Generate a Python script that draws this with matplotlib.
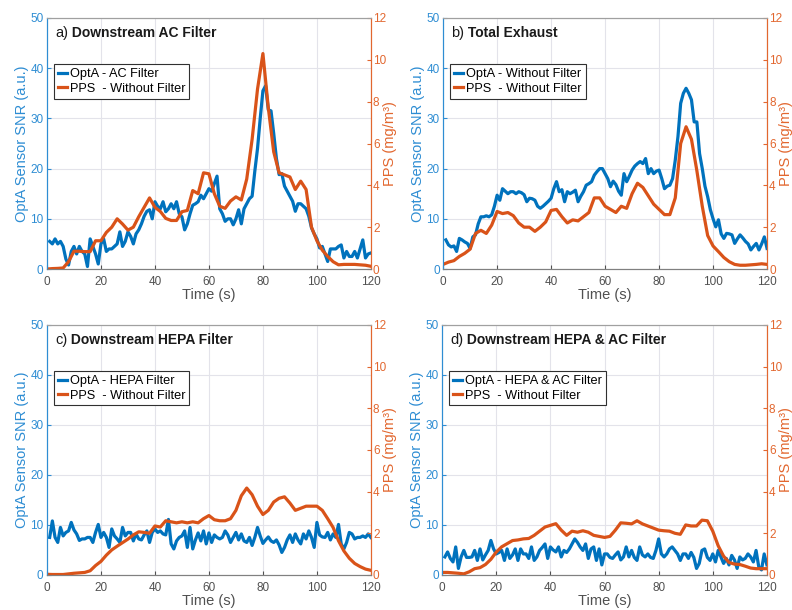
import numpy as np
import matplotlib
matplotlib.use("Agg")
import matplotlib.pyplot as plt

plt.rcParams['font.family'] = ['Liberation Sans', 'DejaVu Sans']

# ---------------- data ----------------
t_opt = np.arange(1, 121)          # s
t_pps = np.arange(0, 121, 2)       # s

a_opt = [5.5, 5, 6, 5, 5.5, 4.5, 2, 0.8, 3.5, 4.5,
         3, 4.5, 3.5, 3, 0.5, 6, 4.5, 3, 1, 5,
         6, 3.5, 4, 4, 4.5, 5, 7.4, 4.5, 5.5, 7.4,
         6.5, 5, 7, 7.8, 9, 10.5, 11.5, 11.8, 10, 13.4,
         12.5, 12, 13.4, 11.4, 12, 13, 12, 13.4, 11, 10.4,
         7.8, 9, 11, 12.7, 13, 13.4, 14.7, 14, 15, 16,
         15.5, 17, 18.5, 12, 11, 9.5, 10, 10, 8.8, 10,
         11.8, 9, 12, 13, 14, 14.5, 19.5, 24, 30, 35.5,
         36.5, 31.7, 31.5, 27, 22, 18.8, 19, 16.5, 15.5, 14.5,
         13.5, 11.5, 13, 13, 12.5, 12, 10.5, 8.2, 7, 6,
         4.2, 4.5, 3, 1.5, 4, 4, 4, 4.5, 4.8, 2.2,
         3.5, 2.5, 2.5, 3.5, 2.2, 4, 5.8, 2.2, 3, 3.2]
a_pps = [0.0, 0.02, 0.03, 0.05, 0.35, 0.85, 0.85, 0.83, 0.83, 1.35,
         1.35, 1.75, 2.0, 2.4, 2.15, 1.86, 2.0, 2.5, 2.95, 3.4,
         2.95, 2.75, 2.42, 2.32, 2.32, 2.74, 2.8, 3.75, 3.6, 4.6,
         4.55, 3.6, 3.0, 2.9, 3.25, 3.45, 3.3, 4.3, 6.2, 8.6,
         10.3, 7.7, 5.6, 4.6, 4.5, 4.4, 3.8, 4.2, 3.8, 2.0,
         1.35, 0.9, 0.6, 0.35, 0.2, 0.22, 0.22, 0.22, 0.2, 0.18,
         0.13]

b_opt = [5.8, 4.8, 4.4, 4.6, 3.5, 6.1, 5.8, 5.4, 5.1, 4.1,
         6.4, 6.8, 9, 10.4, 10.4, 10.6, 10.4, 10.8, 12.5, 14.7,
         13.7, 16, 15.5, 15, 15.4, 15.4, 15, 15.4, 15.2, 14.8,
         13.4, 14.1, 14, 13.7, 12.5, 12.1, 12.5, 13, 13.5, 14.1,
         16, 17.4, 15.4, 15.8, 13.4, 15.4, 15, 15.3, 15.7, 13.4,
         14.5, 15.4, 16.7, 17, 17.4, 18.7, 19.4, 20, 20, 19,
         18, 16.4, 17.5, 16.8, 15.5, 14.7, 19, 17.4, 18.5, 19.7,
         20.5, 21, 21.4, 21, 22, 19, 20, 19, 19.5, 19.7,
         18, 16, 16.5, 16.7, 18, 21.7, 26.4, 33, 35, 36,
         35, 33.7, 29.3, 29.3, 23, 20, 16.5, 14.4, 11.8, 10,
         8.4, 9.8, 7, 6.1, 7.1, 7, 6.8, 5.1, 6, 6.8,
         6.2, 5.5, 5, 3.8, 4.5, 5.1, 3.8, 5, 6.4, 4.1]
b_pps = [0.22, 0.33, 0.4, 0.6, 0.75, 0.95, 1.7, 1.85, 1.7, 2.1,
         2.75, 2.65, 2.7, 2.55, 2.2, 2.0, 2.0, 1.8, 2.0, 2.25,
         2.8, 2.85, 2.5, 2.2, 2.35, 2.3, 2.5, 2.7, 3.4, 3.4,
         3.0, 2.85, 2.7, 3.0, 2.9, 3.6, 4.1, 3.9, 3.5, 3.1,
         2.85, 2.6, 2.6, 3.4, 6.0, 6.8, 6.2, 4.7, 3.0, 1.6,
         1.1, 0.83, 0.55, 0.35, 0.22, 0.18, 0.18, 0.2, 0.22, 0.25,
         0.22]

c_opt = [7.5, 10.8, 7.5, 6.5, 9.5, 7.8, 8.5, 8.8, 10.5, 9,
         8.2, 6.9, 7.2, 7.2, 7.5, 7.5, 6.5, 8.5, 10.1, 7.5,
         8.5, 7.5, 5.5, 9.2, 7.8, 7.2, 6.5, 9.5, 7.8, 8.5,
         8.5, 6.8, 8.2, 7.2, 7, 8, 8.8, 6.5, 8.5, 9.2,
         8.5, 8.8, 8.2, 8, 11.1, 6.2, 5.2, 6.8, 7.5, 7.8,
         8.8, 5.5, 9.5, 5.2, 7, 8.4, 6.8, 8.8, 6.2, 8.4,
         6.5, 8, 7.5, 7.2, 7.5, 8.8, 8, 6.5, 7.5, 8.5,
         7, 8.2, 6.8, 6.5, 7.5, 5.9, 7.5, 9.5, 7.8, 6.3,
         7, 7.6, 6.8, 6.5, 7, 6, 4.5, 5.5, 7, 8,
         6.5, 8.2, 7, 6.2, 8.2, 7.2, 8.8, 7.5, 5.5, 10.5,
         8, 7.6, 7.5, 8.5, 7, 8.2, 7.5, 10.1, 6.2, 5.2,
         6.5, 8.5, 8.2, 7.2, 7.5, 7.5, 7.8, 7.5, 8.2, 7.5]
c_pps = [0.03, 0.02, 0.02, 0.02, 0.05, 0.08, 0.1, 0.12, 0.2, 0.45,
         0.65, 0.95, 1.2, 1.38, 1.55, 1.72, 1.92, 2.07, 2.04, 2.0,
         2.35, 2.3, 2.6, 2.55, 2.5, 2.55, 2.5, 2.55, 2.5, 2.7,
         2.85, 2.65, 2.6, 2.6, 2.7, 3.1, 3.8, 4.17, 3.85, 3.3,
         2.9, 3.1, 3.5, 3.68, 3.75, 3.45, 3.1, 3.2, 3.3, 3.3,
         3.3, 3.1, 2.7, 2.28, 1.64, 1.15, 0.8, 0.55, 0.4, 0.28,
         0.22]

d_opt = [3.6, 4.6, 3.3, 2.6, 5.6, 1.3, 3.6, 4.9, 3.5, 3.5,
         3.6, 4.9, 2.9, 5.2, 3, 4, 4.9, 6.9, 5.2, 4.2,
         4.5, 4.9, 2.9, 5.2, 3.3, 4, 5.2, 2.9, 5.2, 4.2,
         4.2, 3.3, 5.6, 2.9, 3.6, 4.9, 5.5, 6.2, 3.3, 5.6,
         5, 4.6, 5.6, 3.6, 4.9, 4.5, 5.2, 6.2, 7.2, 6.5,
         5.6, 4.9, 6.2, 3.3, 5.2, 5.6, 2.9, 5.2, 2.0, 4.2,
         4.2, 3.5, 3.3, 4, 4.6, 3, 3.6, 5.6, 3.6, 4.9,
         3.5, 2.9, 5.6, 4, 3.6, 4.2, 3.5, 3.3, 4.9, 7.2,
         4.2, 3.6, 4.2, 5.2, 5.6, 4.9, 4.2, 2.9, 4.2, 4.2,
         3.3, 4.5, 3.5, 1.3, 2.3, 4.9, 5.2, 3.5, 2.9, 4.2,
         2.6, 4.9, 3.6, 2.3, 3.3, 2, 3.9, 3.0, 1.3, 3.6,
         3.0, 3.3, 4.2, 3.6, 2.6, 4.9, 1.6, 1.0, 4.2, 2.0]
d_pps = [0.12, 0.12, 0.1, 0.08, 0.05, 0.15, 0.3, 0.35, 0.5, 0.75,
         1.1, 1.35, 1.5, 1.65, 1.68, 1.73, 1.75, 1.9, 2.1, 2.3,
         2.38, 2.46, 2.15, 1.9, 2.1, 2.05, 2.12, 2.05, 1.9, 1.85,
         1.8, 1.85, 2.15, 2.5, 2.48, 2.45, 2.6, 2.45, 2.35, 2.25,
         2.15, 2.12, 2.1, 2.0, 1.95, 2.4, 2.35, 2.35, 2.63, 2.6,
         2.1, 1.4, 0.9, 0.6, 0.52, 0.5, 0.42, 0.33, 0.3, 0.3,
         0.3]

panel_tags = ["a)", "b)", "c)", "d)"]
panel_titles = ["Downstream AC Filter", "Total Exhaust",
                "Downstream HEPA Filter", "Downstream HEPA & AC Filter"]
opt_labels = ["OptA - AC Filter", "OptA - Without Filter",
              "OptA - HEPA Filter", "OptA - HEPA & AC Filter"]
pps_label = "PPS  - Without Filter"
opt_series = [a_opt, b_opt, c_opt, d_opt]
pps_series = [a_pps, b_pps, c_pps, d_pps]

x_ticks = [0, 20, 40, 60, 80, 100, 120]
left_ticks = [0, 10, 20, 30, 40, 50]
right_ticks = [0, 2, 4, 6, 8, 10, 12]

# ---------------- style ----------------
BLUE = '#0072BD'
ORANGE = '#D95319'
BLUE_AX = '#2E8DD3'
ORANGE_AX = '#E2672F'
GRAY = '#505050'

fig = plt.figure(figsize=(7.92, 6.10), dpi=100)
positions = [
    [0.0593, 0.559, 0.409, 0.4115],
    [0.5595, 0.559, 0.409, 0.4115],
    [0.0593, 0.0575, 0.409, 0.4098],
    [0.5583, 0.0575, 0.410, 0.4098],
]

for i in range(4):
    ax = fig.add_axes(positions[i])
    ax2 = ax.twinx()
    l1, = ax.plot(t_opt, opt_series[i], color=BLUE, lw=2.3,
                  label=opt_labels[i], solid_joinstyle='round')
    l2, = ax2.plot(t_pps, pps_series[i], color=ORANGE, lw=2.3,
                   label=pps_label, solid_joinstyle='round')

    ax.set_xlim(0, 120)
    ax.set_ylim(0, 50)
    ax2.set_ylim(0, 12)
    ax.set_xticks(x_ticks)
    ax.set_yticks(left_ticks)
    ax2.set_yticks(right_ticks)

    ax.grid(True, color='#E3E3EA', lw=0.8)
    ax.set_axisbelow(True)

    ax.tick_params(axis='x', direction='in', length=3, colors=GRAY,
                   labelsize=8.5, pad=5)
    ax.tick_params(axis='y', direction='in', length=3, colors=BLUE_AX,
                   labelsize=8.5, pad=2.5)
    ax2.tick_params(axis='y', direction='in', length=3, colors=ORANGE_AX,
                    labelsize=8.5, pad=1.5)

    for a in (ax, ax2):
        a.spines['left'].set_color(BLUE_AX)
        a.spines['right'].set_color(ORANGE_AX)
        a.spines['top'].set_color('#A0A0A0')
        a.spines['bottom'].set_color('#808080')
        for s in a.spines.values():
            s.set_linewidth(0.8)

    ax.set_xlabel("Time (s)", fontsize=10.5, color=GRAY, labelpad=0.3)
    ax.set_ylabel("OptA Sensor SNR (a.u.)", fontsize=10.5, color=BLUE_AX)
    ax2.set_ylabel("PPS (mg/m³)", fontsize=10.5, color=ORANGE_AX)
    ax.yaxis.set_label_coords(-0.056, 0.5)
    ax2.yaxis.set_label_coords(1.036, 0.5)

    tag = ax2.text(0.025, 0.925, panel_tags[i], transform=ax2.transAxes,
                   fontsize=10.5, color='#1a1a1a', va='baseline', ha='left')
    ax2.annotate(" " + panel_titles[i], xy=(1, 0), xycoords=tag,
                 va='bottom', ha='left', fontsize=10, fontweight='bold',
                 color='#1a1a1a')

    leg = ax2.legend(handles=[l1, l2], loc='upper left',
                     bbox_to_anchor=(0.022, 0.815), fontsize=9.2,
                     handlelength=0.7, handletextpad=0.25, borderpad=0.3,
                     labelspacing=0.2, borderaxespad=0, fancybox=False,
                     framealpha=1, edgecolor='#303030')
    leg.get_frame().set_linewidth(0.8)

fig.savefig("out.png", dpi=100)
